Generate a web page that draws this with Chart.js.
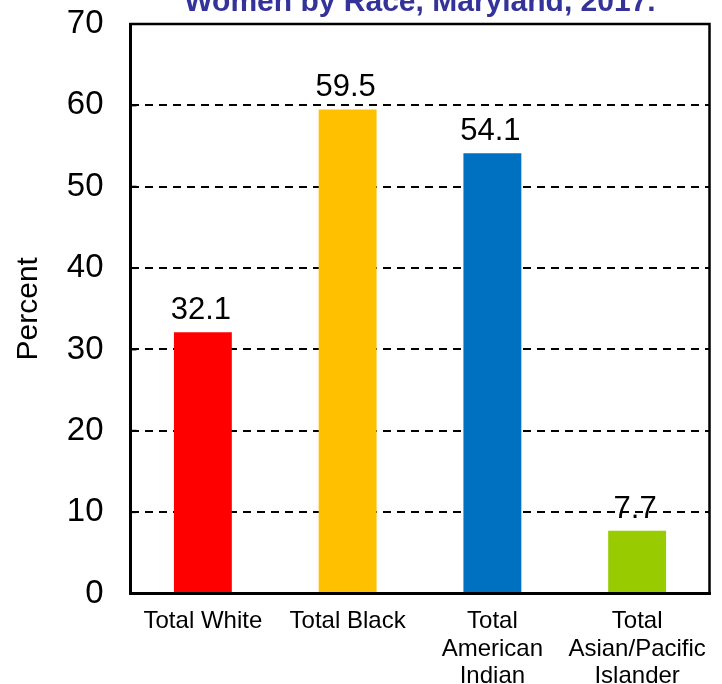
<!DOCTYPE html>
<html>
<head>
<meta charset="utf-8">
<script src="https://cdn.jsdelivr.net/npm/chart.js@4"></script>
<style>
html,body{margin:0;padding:0;background:#fff;}
#wrap{width:722px;height:684px;}
</style>
</head>
<body>
<div id="wrap"><canvas id="c" width="722" height="684"></canvas></div>
<script>
const titleText = "Women by Race, Maryland, 2017.";
const categories = ["Total White", "Total Black", ["Total", "American", "Indian"], ["Total", "Asian/Pacific", "Islander"]];
const values = [32.1, 59.5, 54.1, 7.7];
const barColors = ["#FF0000", "#FFC000", "#0070C0", "#99CC00"];
const yTicks = [0, 10, 20, 30, 40, 50, 60, 70];

const FONT = "'Liberation Sans', Arial, sans-serif";

const decor = {
  id: 'decor',
  afterDatasetsDraw(chart) {
    const ctx = chart.ctx;
    const a = chart.chartArea;
    const y = chart.scales.y;
    ctx.save();
    // frame
    ctx.strokeStyle = '#000';
    ctx.lineWidth = 2.5;
    ctx.strokeRect(a.left, a.top, a.right - a.left, a.bottom - a.top);
    ctx.lineWidth = 3;
    ctx.beginPath();
    ctx.moveTo(a.left - 1.5, a.bottom);
    ctx.lineTo(a.right + 1.5, a.bottom);
    ctx.moveTo(a.left, a.top - 1);
    ctx.lineTo(a.left, a.bottom + 1.5);
    ctx.stroke();
    // inward ticks
    ctx.lineWidth = 2;
    yTicks.forEach(v => {
      const py = y.getPixelForValue(v);
      ctx.beginPath();
      ctx.moveTo(a.left, py);
      ctx.lineTo(a.left + 6, py);
      ctx.stroke();
    });
    // value labels
    ctx.fillStyle = '#000';
    ctx.font = "31px " + FONT;
    ctx.textAlign = 'center';
    ctx.textBaseline = 'alphabetic';
    const meta = chart.getDatasetMeta(0);
    meta.data.forEach((bar, i) => {
      ctx.fillText(values[i].toFixed(1), bar.x - 2, bar.y - 13);
    });
    // title (clipped at top)
    ctx.fillStyle = '#333399';
    ctx.font = "bold 30px " + FONT;
    ctx.fillText(titleText, (a.left + a.right) / 2, 11);
    ctx.restore();
  }
};

new Chart(document.getElementById('c'), {
  type: 'bar',
  data: {
    labels: categories,
    datasets: [{
      data: values,
      backgroundColor: barColors,
      borderWidth: 0,
      barPercentage: 0.4,
      categoryPercentage: 1.0
    }]
  },
  options: {
    responsive: false,
    animation: false,
    devicePixelRatio: 1,
    layout: { padding: { top: 24, right: 12.5, left: 0, bottom: 0 } },
    plugins: { legend: { display: false }, tooltip: { enabled: false }, title: { display: false } },
    scales: {
      x: {
        grid: { display: false, drawTicks: false },
        border: { display: false },
        ticks: {
          color: '#000',
          font: { family: FONT, size: 24, lineHeight: 1.15 },
          padding: 14,
          maxRotation: 0,
          autoSkip: false
        },
        afterFit(s) { s.height = 90.5; s.paddingLeft = 0; s.paddingRight = 0; }
      },
      y: {
        min: 0, max: 70,
        afterBuildTicks(s) { s.ticks = yTicks.map(v => ({ value: v })); },
        grid: {
          drawTicks: false,
          color: ctx => (ctx.tick && (ctx.tick.value === 0 || ctx.tick.value === 70)) ? 'rgba(0,0,0,0)' : '#000',
          lineWidth: 2
        },
        border: { display: false, dash: [8, 6] },
        ticks: {
          color: '#000',
          font: { family: FONT, size: 33 },
          padding: 27
        },
        title: {
          display: true,
          text: 'Percent',
          color: '#000',
          font: { family: FONT, size: 30 },
          padding: { top: 11, bottom: 0 }
        },
        afterFit(s) { s.width = 130.5; s.paddingTop = 0; s.paddingBottom = 0; }
      }
    }
  },
  plugins: [decor]
});
</script>
</body>
</html>
